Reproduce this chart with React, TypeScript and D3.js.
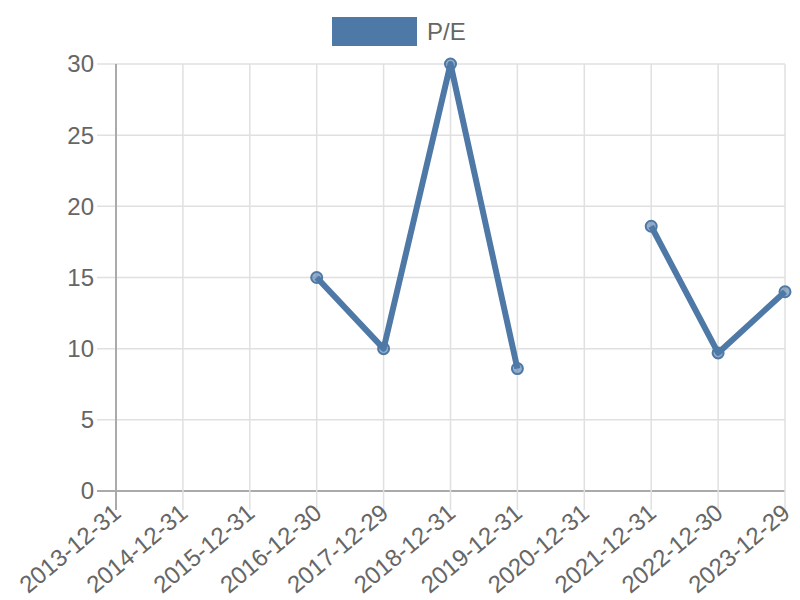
import React, { useEffect, useRef } from 'react';
import * as d3 from 'd3';

const dates = [
  '2013-12-31', '2014-12-31', '2015-12-31', '2016-12-30', '2017-12-29', '2018-12-31',
  '2019-12-31', '2020-12-31', '2021-12-31', '2022-12-30', '2023-12-29',
];
const peValues: (number | null)[] = [null, null, null, 15, 10, 30, 8.6, null, 18.6, 9.7, 14];
const yTicks = [0, 5, 10, 15, 20, 25, 30];

function App() {
  const ref = useRef<SVGSVGElement>(null);

  useEffect(() => {
    const svg = d3.select(ref.current);
    svg.selectAll('*').remove();

    const left = 116, right = 785, top = 64, bottom = 491;
    const color = '#4e79a7';
    const font = 'Liberation Sans, Arial, sans-serif';

    const x = d3.scalePoint<string>().domain(dates).range([left, right]);
    const y = d3.scaleLinear().domain([0, 30]).range([bottom, top]);

    // legend
    svg.append('rect').attr('x', 332).attr('y', 17).attr('width', 85).attr('height', 29).attr('fill', color);
    svg.append('text').attr('x', 427).attr('y', 40).attr('font-family', font).attr('font-size', 24)
      .attr('fill', '#666').text('P/E');

    // horizontal grid
    svg.append('g').selectAll('line').data(yTicks).enter().append('line')
      .attr('x1', left - 19).attr('x2', right)
      .attr('y1', d => y(d)).attr('y2', d => y(d))
      .attr('stroke', d => (d === 0 ? '#aaa' : '#e0e0e0')).attr('stroke-width', d => (d === 0 ? 2 : 1.5));

    // vertical grid
    svg.append('g').selectAll('line').data(dates).enter().append('line')
      .attr('x1', d => x(d)!).attr('x2', d => x(d)!)
      .attr('y1', top).attr('y2', bottom + 19)
      .attr('stroke', (d, i) => (i === 0 ? '#aaa' : '#e0e0e0')).attr('stroke-width', (d, i) => (i === 0 ? 2 : 1.5));

    // y labels
    svg.append('g').selectAll('text').data(yTicks).enter().append('text')
      .attr('x', left - 22).attr('y', d => y(d)).attr('dy', '0.35em')
      .attr('text-anchor', 'end').attr('font-family', font).attr('font-size', 24).attr('fill', '#666')
      .text(d => d);

    // x labels
    svg.append('g').selectAll('text').data(dates).enter().append('text')
      .attr('transform', d => `translate(${x(d)! + 1},${bottom + 18}) rotate(-40)`)
      .attr('text-anchor', 'end').attr('dy', '0.35em')
      .attr('font-family', font).attr('font-size', 24).attr('fill', '#666')
      .text(d => d);

    const pts = dates.map((d, i) => ({ d, v: peValues[i] }));

    const line = d3.line<{ d: string; v: number | null }>()
      .defined(p => p.v !== null)
      .x(p => x(p.d)!)
      .y(p => y(p.v as number));

    svg.append('path').datum(pts)
      .attr('fill', 'none').attr('stroke', color).attr('stroke-width', 6)
      .attr('stroke-linejoin', 'round').attr('d', line);

    svg.append('g').selectAll('circle').data(pts.filter(p => p.v !== null)).enter().append('circle')
      .attr('cx', p => x(p.d)!).attr('cy', p => y(p.v as number)).attr('r', 5.5)
      .attr('fill', 'rgba(78,121,167,0.6)').attr('stroke', color).attr('stroke-width', 2);
  }, []);

  return (
    <svg ref={ref} width={800} height={600} style={{ position: 'absolute', left: 0, top: 0 }} />
  );
}

export default App;
